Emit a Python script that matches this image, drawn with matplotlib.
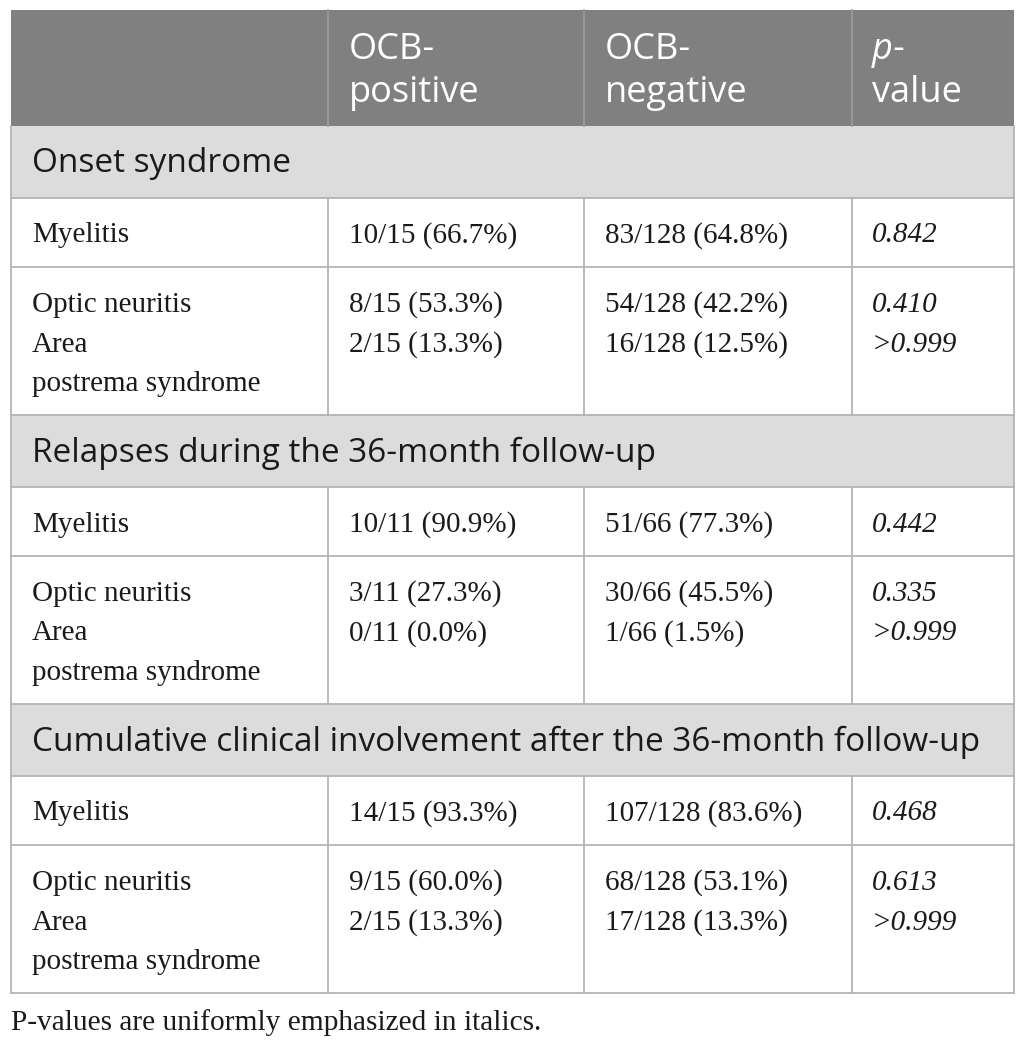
import matplotlib
matplotlib.use("Agg")
import matplotlib.pyplot as plt
from matplotlib.patches import Rectangle

# ---- data ----
col_headers = ["", "OCB-\npositive", "OCB-\nnegative", "p-\nvalue"]
sections = [
    "Onset syndrome",
    "Relapses during the 36-month follow-up",
    "Cumulative clinical involvement after the 36-month follow-up",
]
row_labels = [
    ["Myelitis", "Optic neuritis\nArea\npostrema syndrome"],
    ["Myelitis", "Optic neuritis\nArea\npostrema syndrome"],
    ["Myelitis", "Optic neuritis\nArea\npostrema syndrome"],
]
ocb_pos = [
    ["10/15 (66.7%)", "8/15 (53.3%)\n2/15 (13.3%)"],
    ["10/11 (90.9%)", "3/11 (27.3%)\n0/11 (0.0%)"],
    ["14/15 (93.3%)", "9/15 (60.0%)\n2/15 (13.3%)"],
]
ocb_neg = [
    ["83/128 (64.8%)", "54/128 (42.2%)\n16/128 (12.5%)"],
    ["51/66 (77.3%)", "30/66 (45.5%)\n1/66 (1.5%)"],
    ["107/128 (83.6%)", "68/128 (53.1%)\n17/128 (13.3%)"],
]
p_values = [
    ["0.842", "0.410\n>0.999"],
    ["0.442", "0.335\n>0.999"],
    ["0.468", "0.613\n>0.999"],
]
footnote = "P-values are uniformly emphasized in italics."

# ---- layout ----
W, H = 1026, 1045
fig = plt.figure(figsize=(W / 100, H / 100), dpi=100)
ax = fig.add_axes([0, 0, 1, 1])
ax.set_xlim(0, W)
ax.set_ylim(H, 0)
ax.axis("off")

left, right = 11, 1014
col_x = [11, 328, 584, 852, 1014]
text_x = [32, 349, 605, 872]
header_top, header_bot = 10, 126
sec_h = 72
short_h = 69
long_h = 148
line_gap = 39.5

sans = "Open Sans"
serif = "Liberation Serif"
border = "#b4b4b4"
lw = 1.3

hdr_fs = 26
sec_fs = 24
body_fs = 21
foot_fs = 21.2

# header
ax.add_patch(Rectangle((left, header_top), right - left, header_bot - header_top,
                       facecolor="#808080", edgecolor="none"))
for i in range(1, 4):
    ax.plot([col_x[i], col_x[i]], [header_top, header_bot], color="#9a9a9a", lw=lw)
for i, h in enumerate(col_headers):
    if not h:
        continue
    lines = h.split("\n")
    for k, ln in enumerate(lines):
        y = 50 + k * 43
        if i == 3 and k == 0:
            ax.text(text_x[i], y, "p", fontsize=hdr_fs, family=sans, style="italic",
                    color="white", va="center", ha="left")
            ax.text(text_x[i] + 20, y, "-", fontsize=hdr_fs, family=sans,
                    color="white", va="center", ha="left")
        else:
            ax.text(text_x[i], y, ln, fontsize=hdr_fs, family=sans, color="white",
                    va="center", ha="left")

y = header_bot
for s, title in enumerate(sections):
    # section row
    ax.add_patch(Rectangle((left, y), right - left, sec_h, facecolor="#dcdcdc",
                           edgecolor="none"))
    ax.text(text_x[0], y + sec_h / 2 + 2, title, fontsize=sec_fs, family=sans,
            color="#1a1a1a", va="center", ha="left")
    ax.plot([left, right], [y + sec_h, y + sec_h], color=border, lw=lw)
    y += sec_h
    for r in range(2):
        h = short_h if r == 0 else long_h
        cells = [row_labels[s][r], ocb_pos[s][r], ocb_neg[s][r], p_values[s][r]]
        for c, txt in enumerate(cells):
            for k, ln in enumerate(txt.split("\n")):
                if r == 0:
                    ty = y + h / 2 + 3
                else:
                    ty = y + 38 + k * line_gap
                ax.text(text_x[c], ty, ln, fontsize=body_fs, family=serif,
                        style="italic" if c == 3 else "normal",
                        color="#1a1a1a", va="center", ha="left")
        for i in range(1, 4):
            ax.plot([col_x[i], col_x[i]], [y, y + h], color=border, lw=lw)
        ax.plot([left, right], [y + h, y + h], color=border, lw=lw)
        y += h

# outer border
ax.plot([left, left], [header_bot, y], color=border, lw=lw)
ax.plot([right, right], [header_bot, y], color=border, lw=lw)

ax.text(11, 1023, footnote, fontsize=foot_fs, family=serif, color="#1a1a1a",
        va="center", ha="left")

fig.savefig("out.png", dpi=100, facecolor="white")
